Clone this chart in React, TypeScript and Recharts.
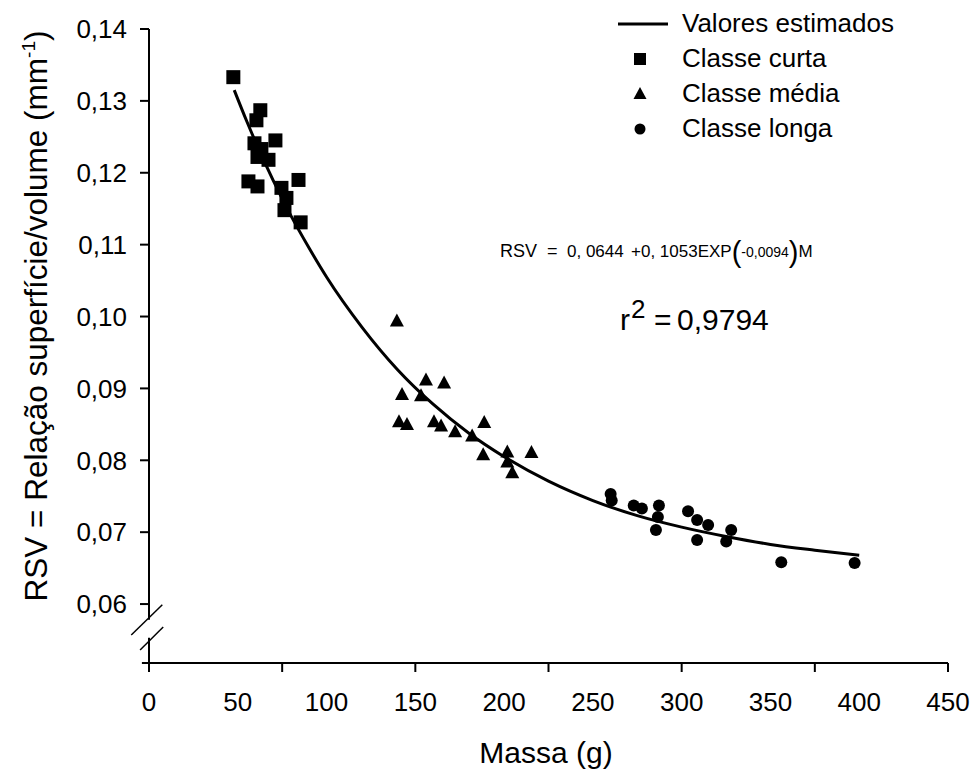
import React from "react"
import { ComposedChart, Line, Scatter, XAxis, YAxis, ReferenceLine, Legend } from "recharts"

const FONT = "'Liberation Sans', Arial, sans-serif"

// x axis: labels every 50 g, tick marks every 75 g (as in the original figure)
const massaTicks = [0, 50, 75, 100, 150, 200, 225, 250, 300, 350, 375, 400, 450]
const rsvTicks = [0.06, 0.07, 0.08, 0.09, 0.1, 0.11, 0.12, 0.13, 0.14]
const legendOrder = ["Valores estimados", "Classe curta", "Classe média", "Classe longa"]

// fitted curve
const valoresEstimados = [
  { m: 48, rsv: 0.1315 },
  { m: 55, rsv: 0.1272 },
  { m: 60, rsv: 0.1243 },
  { m: 70, rsv: 0.1189 },
  { m: 80, rsv: 0.114 },
  { m: 90, rsv: 0.1096 },
  { m: 100, rsv: 0.1055 },
  { m: 120, rsv: 0.0985 },
  { m: 140, rsv: 0.0926 },
  { m: 160, rsv: 0.0878 },
  { m: 180, rsv: 0.0838 },
  { m: 200, rsv: 0.0805 },
  { m: 225, rsv: 0.0771 },
  { m: 250, rsv: 0.0744 },
  { m: 275, rsv: 0.0723 },
  { m: 300, rsv: 0.0707 },
  { m: 325, rsv: 0.0694 },
  { m: 350, rsv: 0.0683 },
  { m: 375, rsv: 0.0675 },
  { m: 400, rsv: 0.0668 },
]

const classeCurta = [
  { m: 47.5, rsv: 0.1333 },
  { m: 62.7, rsv: 0.1287 },
  { m: 60.5, rsv: 0.1273 },
  { m: 71.2, rsv: 0.1245 },
  { m: 59.4, rsv: 0.1241 },
  { m: 63.3, rsv: 0.1233 },
  { m: 61.1, rsv: 0.1222 },
  { m: 67.3, rsv: 0.1218 },
  { m: 56.0, rsv: 0.1188 },
  { m: 61.1, rsv: 0.1181 },
  { m: 84.2, rsv: 0.119 },
  { m: 74.6, rsv: 0.1179 },
  { m: 77.4, rsv: 0.1165 },
  { m: 76.3, rsv: 0.1148 },
  { m: 85.4, rsv: 0.1131 },
]

const classeMedia = [
  { m: 139.6, rsv: 0.0993 },
  { m: 156.0, rsv: 0.0911 },
  { m: 166.2, rsv: 0.0907 },
  { m: 142.5, rsv: 0.0891 },
  { m: 153.2, rsv: 0.0889 },
  { m: 140.8, rsv: 0.0853 },
  { m: 145.3, rsv: 0.0849 },
  { m: 160.5, rsv: 0.0853 },
  { m: 164.5, rsv: 0.0847 },
  { m: 172.4, rsv: 0.0839 },
  { m: 188.8, rsv: 0.0852 },
  { m: 182.0, rsv: 0.0833 },
  { m: 188.2, rsv: 0.0807 },
  { m: 201.8, rsv: 0.0811 },
  { m: 201.8, rsv: 0.0797 },
  { m: 215.4, rsv: 0.081 },
  { m: 204.6, rsv: 0.0782 },
]

const classeLonga = [
  { m: 260.0, rsv: 0.0753 },
  { m: 260.6, rsv: 0.0744 },
  { m: 273.0, rsv: 0.0737 },
  { m: 277.6, rsv: 0.0733 },
  { m: 287.2, rsv: 0.0737 },
  { m: 286.6, rsv: 0.0721 },
  { m: 285.5, rsv: 0.0703 },
  { m: 303.6, rsv: 0.0729 },
  { m: 308.7, rsv: 0.0717 },
  { m: 314.9, rsv: 0.071 },
  { m: 308.7, rsv: 0.0689 },
  { m: 327.9, rsv: 0.0703 },
  { m: 325.1, rsv: 0.0687 },
  { m: 356.1, rsv: 0.0658 },
  { m: 397.4, rsv: 0.0657 },
]

const Y_MIN = 0.0518

const SquareDot = ({ cx, cy }: any) => <rect x={cx - 7} y={cy - 7} width={14} height={14} fill="#000" />
const TriangleDot = ({ cx, cy }: any) => (
  <path d={`M${cx},${cy - 8} L${cx + 7},${cy + 5} L${cx - 7},${cy + 5} Z`} fill="#000" />
)
const CircleDot = ({ cx, cy }: any) => <circle cx={cx} cy={cy} r={6} fill="#000" />

function MassaTick(props: any) {
  const { x, y, payload } = props
  const v = payload.value
  const axisY = y - 30 // tickSize 9 + tickMargin 21
  return (
    <g>
      {v % 75 === 0 && <line x1={x} x2={x} y1={axisY} y2={axisY + 9} stroke="#000" strokeWidth={2} />}
      {v % 50 === 0 && (
        <text x={x} y={y} dy="0.71em" textAnchor="middle" fontSize={26} fontFamily={FONT} fill="#000">
          {v}
        </text>
      )}
    </g>
  )
}

const legendIcons: Record<string, React.ReactNode> = {
  "Valores estimados": <line x1={8} x2={58} y1={10} y2={10} stroke="#000" strokeWidth={3} />,
  "Classe curta": <rect x={24} y={4} width={12} height={12} fill="#000" />,
  "Classe média": <path d="M30,3 L36.5,15 L23.5,15 Z" fill="#000" />,
  "Classe longa": <circle cx={30} cy={10} r={5.5} fill="#000" />,
}

function LegendBox({ payload }: any) {
  const items = [...(payload || [])].sort(
    (a: any, b: any) => legendOrder.indexOf(a.value) - legendOrder.indexOf(b.value),
  )
  return (
    <div style={{ fontFamily: FONT, fontSize: 26, color: "#000", lineHeight: "35px" }}>
      {items.map((entry: any) => (
        <div key={entry.value} style={{ display: "flex", alignItems: "center", height: 35 }}>
          <svg width={72} height={20} style={{ display: "block" }}>
            {legendIcons[entry.value]}
          </svg>
          <span>{entry.value}</span>
        </div>
      ))}
    </div>
  )
}

const axisStroke = { stroke: "#000", strokeWidth: 2 }

export default function App() {
  return (
    <div style={{ position: "absolute", left: 0, top: 0, width: 971, height: 773, background: "#fff" }}>
      <ComposedChart width={971} height={773} margin={{ top: 29, right: 23, bottom: 50, left: 69 }}>
        <XAxis
          type="number"
          dataKey="m"
          domain={[0, 450]}
          ticks={massaTicks}
          interval={0}
          allowDataOverflow
          axisLine={axisStroke}
          tickLine={false}
          tickSize={9}
          tickMargin={21}
          tick={MassaTick}
          height={60}
        />
        <YAxis
          type="number"
          dataKey="rsv"
          domain={[Y_MIN, 0.14]}
          ticks={rsvTicks}
          interval={0}
          allowDataOverflow
          axisLine={false}
          tickLine={axisStroke}
          tickSize={9}
          tickMargin={13}
          width={80}
          tick={{ fontSize: 26, fill: "#000", fontFamily: FONT }}
          tickFormatter={(v: number) => v.toFixed(2).replace(".", ",")}
        />
        {/* broken y axis */}
        <ReferenceLine segment={[{ x: 0, y: 0.14 }, { x: 0, y: 0.0578 }]} {...axisStroke} ifOverflow="visible" />
        <ReferenceLine segment={[{ x: 0, y: 0.0553 }, { x: 0, y: Y_MIN }]} {...axisStroke} ifOverflow="visible" />
        <ReferenceLine segment={[{ x: -10, y: 0.0557 }, { x: 7.5, y: 0.0599 }]} stroke="#000" strokeWidth={1.5} ifOverflow="visible" />
        <ReferenceLine segment={[{ x: -5, y: 0.0536 }, { x: 8, y: 0.0568 }]} stroke="#000" strokeWidth={1.5} ifOverflow="visible" />
        <ReferenceLine segment={[{ x: -4, y: Y_MIN }, { x: 0, y: Y_MIN }]} {...axisStroke} ifOverflow="visible" />
        <Legend
          layout="vertical"
          align="center"
          verticalAlign="middle"
          wrapperStyle={{ left: 610, top: 6, width: 330 }}
          content={LegendBox}
        />
        <Line
          name="Valores estimados"
          data={valoresEstimados}
          dataKey="rsv"
          type="monotone"
          stroke="#000"
          strokeWidth={3}
          dot={false}
          isAnimationActive={false}
        />
        <Scatter name="Classe curta" data={classeCurta} dataKey="rsv" fill="#000" shape={SquareDot} isAnimationActive={false} />
        <Scatter name="Classe média" data={classeMedia} dataKey="rsv" fill="#000" shape={TriangleDot} isAnimationActive={false} />
        <Scatter name="Classe longa" data={classeLonga} dataKey="rsv" fill="#000" shape={CircleDot} isAnimationActive={false} />
      </ComposedChart>

      <svg width={971} height={773} style={{ position: "absolute", left: 0, top: 0, pointerEvents: "none" }}>
        <g fontFamily={FONT} fill="#000">
          <text transform="translate(47,316) rotate(-90)" textAnchor="middle" fontSize={31.5}>
            RSV = Relação superfície/volume (mm
            <tspan fontSize={19} dy={-12}>-1</tspan>
            <tspan dy={12}>)</tspan>
          </text>
          <text x={546} y={763} textAnchor="middle" fontSize={30}>
            Massa (g)
          </text>

          <text x={500} y={257} fontSize={18}>RSV</text>
          <text x={547} y={257} fontSize={18}>=</text>
          <text x={567} y={257} fontSize={17}>0, 0644</text>
          <text x={631} y={257} fontSize={17}>
            +0, 1053EXP
            <tspan fontSize={29} dy={5}>(</tspan>
            <tspan fontSize={14} dy={-5}>-0,0094</tspan>
            <tspan fontSize={29} dy={5}>)</tspan>
            <tspan fontSize={17} dy={-5}>M</tspan>
          </text>

          <text x={620} y={330} fontSize={30}>r</text>
          <text x={631} y={318} fontSize={26}>2</text>
          <text x={654} y={330} fontSize={30}>=</text>
          <text x={677} y={330} fontSize={30}>0,9794</text>
        </g>
      </svg>
    </div>
  )
}
